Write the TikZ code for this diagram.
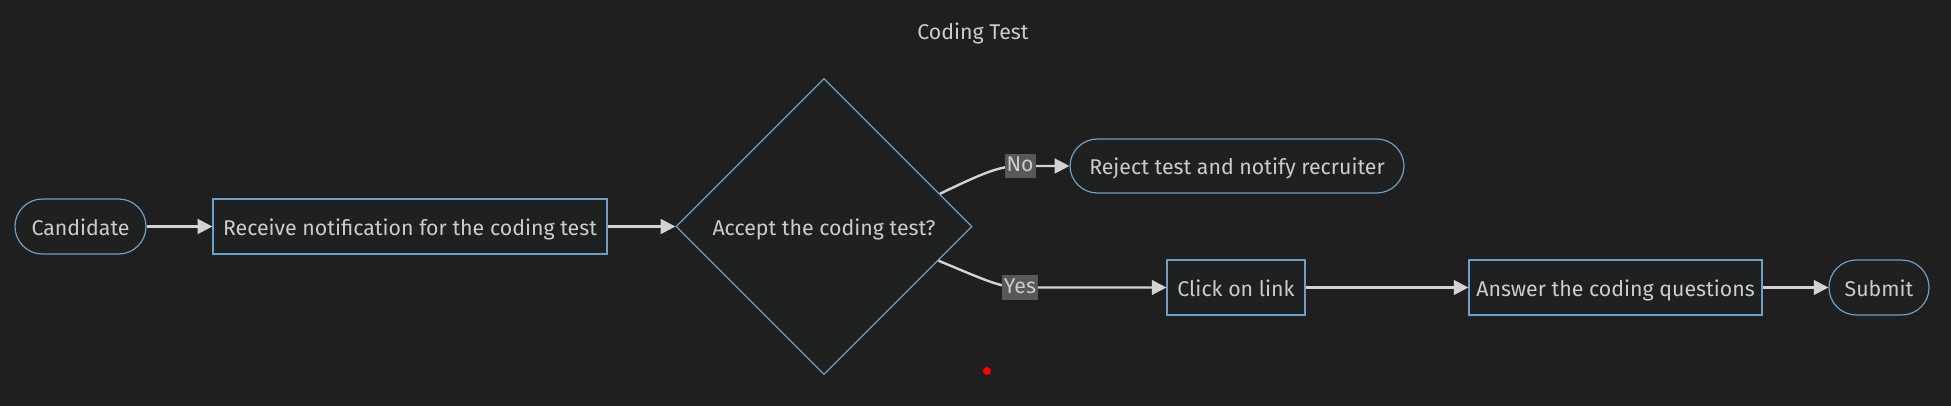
\documentclass[tikz,border=0pt]{standalone}
\usepackage{fontspec}
\setmainfont{Fira Sans}
\usetikzlibrary{shapes.geometric,arrows.meta,calc}
\definecolor{bg}{HTML}{1F1F1F}
\definecolor{nodefill}{HTML}{1F2020}
\definecolor{nodeborder}{HTML}{6E9FC8}
\definecolor{edgecol}{HTML}{D3D3D3}
\definecolor{txt}{HTML}{CCCCCC}
\definecolor{lblbg}{HTML}{585858}
\begin{document}
\begin{tikzpicture}[x=0.75pt,y=-0.75pt,
  font=\fontsize{16}{18}\selectfont, text=txt,
  base/.style={draw=nodeborder, fill=nodefill, line width=0.9pt, inner sep=0pt, text=txt, text height=13pt, text depth=0pt},
  proc/.style={base, rectangle, minimum height=41.25pt},
  term/.style={base, rectangle, rounded corners=20.5pt, minimum height=41.25pt},
  decision/.style={base, diamond, aspect=1, minimum width=222pt, minimum height=222pt},
  edge/.style={draw=edgecol, line width=1.8pt, -{Triangle[length=11pt,width=11pt]}},
  lbl/.style={fill=lblbg, text=txt, inner sep=1.5pt, text height=12pt, text depth=3.5pt}]
\fill[bg] (0,0) rectangle (1951,406);
\useasboundingbox (0,0) rectangle (1951,406);
\node (title) at (973,33) {Coding Test};
\node[term, minimum width=98.25pt] (cand) at (80.5,226.5) {Candidate};
\node[proc, minimum width=295.5pt] (recv) at (410,226.5) {Receive notification for the coding test};
\node[decision] (dec) at (824,226.5) {Accept the coding test?};
\node[term, minimum width=250.5pt, minimum height=40.5pt] (rej) at (1237,166) {Reject test and notify recruiter};
\node[proc, minimum width=103.5pt] (click) at (1236,287.5) {Click on link};
\node[proc, minimum width=219.75pt] (ans) at (1615.5,287.5) {Answer the coding questions};
\node[term, minimum width=75pt] (sub) at (1879,287.5) {Submit};
\coordinate (noS) at ($(dec.east)!0.22!(dec.north)$);
\coordinate (yesS) at ($(dec.east)!0.23!(dec.south)$);
\draw[edge] (cand) -- (recv);
\draw[edge] (recv) -- (dec);
\draw[edge] (noS) .. controls (985,172) and (1000,166) .. (1020,166) node[lbl] {No} -- (rej.west);
\draw[edge] (yesS) .. controls (985,280) and (1000,287.5) .. (1020,287.5) node[lbl] {Yes} -- (click.west);
\draw[edge] (click) -- (ans);
\draw[edge] (ans) -- (sub);
\fill[red] (987,371) circle (4);
\end{tikzpicture}
\end{document}
